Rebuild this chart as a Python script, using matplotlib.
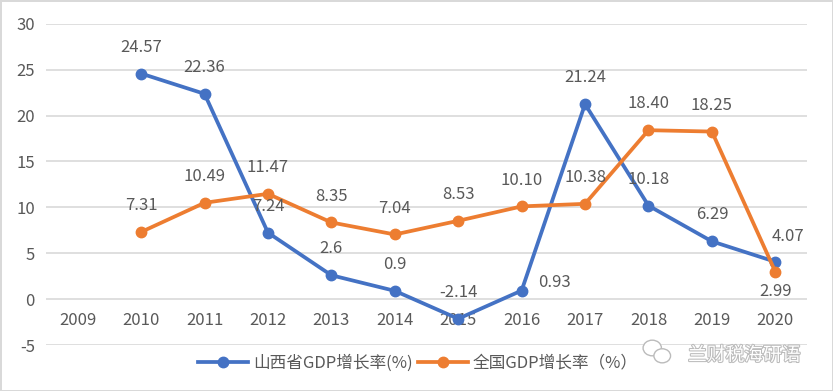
import matplotlib.pyplot as plt
import matplotlib.patheffects as pe
from matplotlib.patches import Ellipse

plt.rcParams['font.family'] = ['Noto Sans CJK SC', 'DejaVu Sans']

years = ["2009", "2010", "2011", "2012", "2013", "2014", "2015", "2016", "2017", "2018", "2019", "2020"]
shanxi_years = years[1:]
shanxi = [24.57, 22.36, 7.24, 2.6, 0.9, -2.14, 0.93, 21.24, 10.18, 6.29, 4.07]
shanxi_text = ["24.57", "22.36", "7.24", "2.6", "0.9", "-2.14", "0.93", "21.24", "10.18", "6.29", "4.07"]
national = [7.31, 10.49, 11.47, 8.35, 7.04, 8.53, 10.10, 10.38, 18.40, 18.25, 2.99]
national_text = ["7.31", "10.49", "11.47", "8.35", "7.04", "8.53", "10.10", "10.38", "18.40", "18.25", "2.99"]
yticks = [-5, 0, 5, 10, 15, 20, 25, 30]

blue = "#4472C4"
orange = "#ED7D31"
txt = "#595959"
fs = 12

fig = plt.figure(figsize=(8.33, 3.91), dpi=100)
fig.patch.set_edgecolor("#D9D9D9")
fig.patch.set_linewidth(2)
ax = fig.add_axes([0.0552, 0.1176, 0.9136, 0.8218])

x_all = list(range(len(years)))
x_sx = [years.index(y) for y in shanxi_years]

l1, = ax.plot(x_sx, shanxi, color=blue, lw=2.7, marker="o", ms=7.5, label="山西省GDP增长率(%)", zorder=3)
l2, = ax.plot(x_sx, national, color=orange, lw=2.7, marker="o", ms=7.5, label="全国GDP增长率（%）", zorder=3)

# data labels
for xv, v, t in zip(x_sx, shanxi, shanxi_text):
    if t == "0.93":
        ax.annotate(t, (xv, v), xytext=(12, 6), textcoords="offset points", ha="left", va="center", fontsize=fs, color=txt)
    elif t == "4.07":
        ax.annotate(t, (xv, v), xytext=(9, 18), textcoords="offset points", ha="center", va="center", fontsize=fs, color=txt)
    else:
        ax.annotate(t, (xv, v), xytext=(0, 19), textcoords="offset points", ha="center", va="center", fontsize=fs, color=txt)
for xv, v, t in zip(x_sx, national, national_text):
    if t == "2.99":
        ax.annotate(t, (xv, v), xytext=(0, -14), textcoords="offset points", ha="center", va="center", fontsize=fs, color=txt)
    else:
        ax.annotate(t, (xv, v), xytext=(0, 19), textcoords="offset points", ha="center", va="center", fontsize=fs, color=txt)

ax.set_xlim(-0.5, len(years) - 0.5)
ax.set_ylim(-5, 30)
ax.set_yticks(yticks)
ax.set_yticklabels([str(v) for v in yticks])
ax.set_xticks(x_all)
ax.set_xticklabels(years)
ax.grid(axis="y", color="#D9D9D9", lw=1.2, zorder=0)
ax.spines["bottom"].set_position(("data", 0))
for s in ax.spines.values():
    s.set_visible(False)
ax.tick_params(axis="both", length=0, labelsize=fs, colors=txt)
ax.tick_params(axis="x", pad=9)
ax.tick_params(axis="y", pad=8)

fig.legend(handles=[l1, l2], loc="center", bbox_to_anchor=(0.502, 0.072), ncol=2, frameon=False,
           fontsize=fs, labelcolor=txt, handlelength=3, columnspacing=0.3, handletextpad=0.3)

# watermark
halo = [pe.withStroke(linewidth=1.5, foreground="#BBBBBB")]
for cx, cy, w, h in [(0.783, 0.11, 0.022, 0.04), (0.795, 0.09, 0.02, 0.036)]:
    fig.patches.append(Ellipse((cx, cy), w, h, transform=fig.transFigure, facecolor="white",
                               edgecolor="#BBBBBB", lw=1))
fig.text(0.826, 0.092, "兰财税海研语", fontsize=13.5, color="white", ha="left", va="center", path_effects=halo)

fig.savefig("out.png", dpi=100, edgecolor=fig.get_edgecolor())
